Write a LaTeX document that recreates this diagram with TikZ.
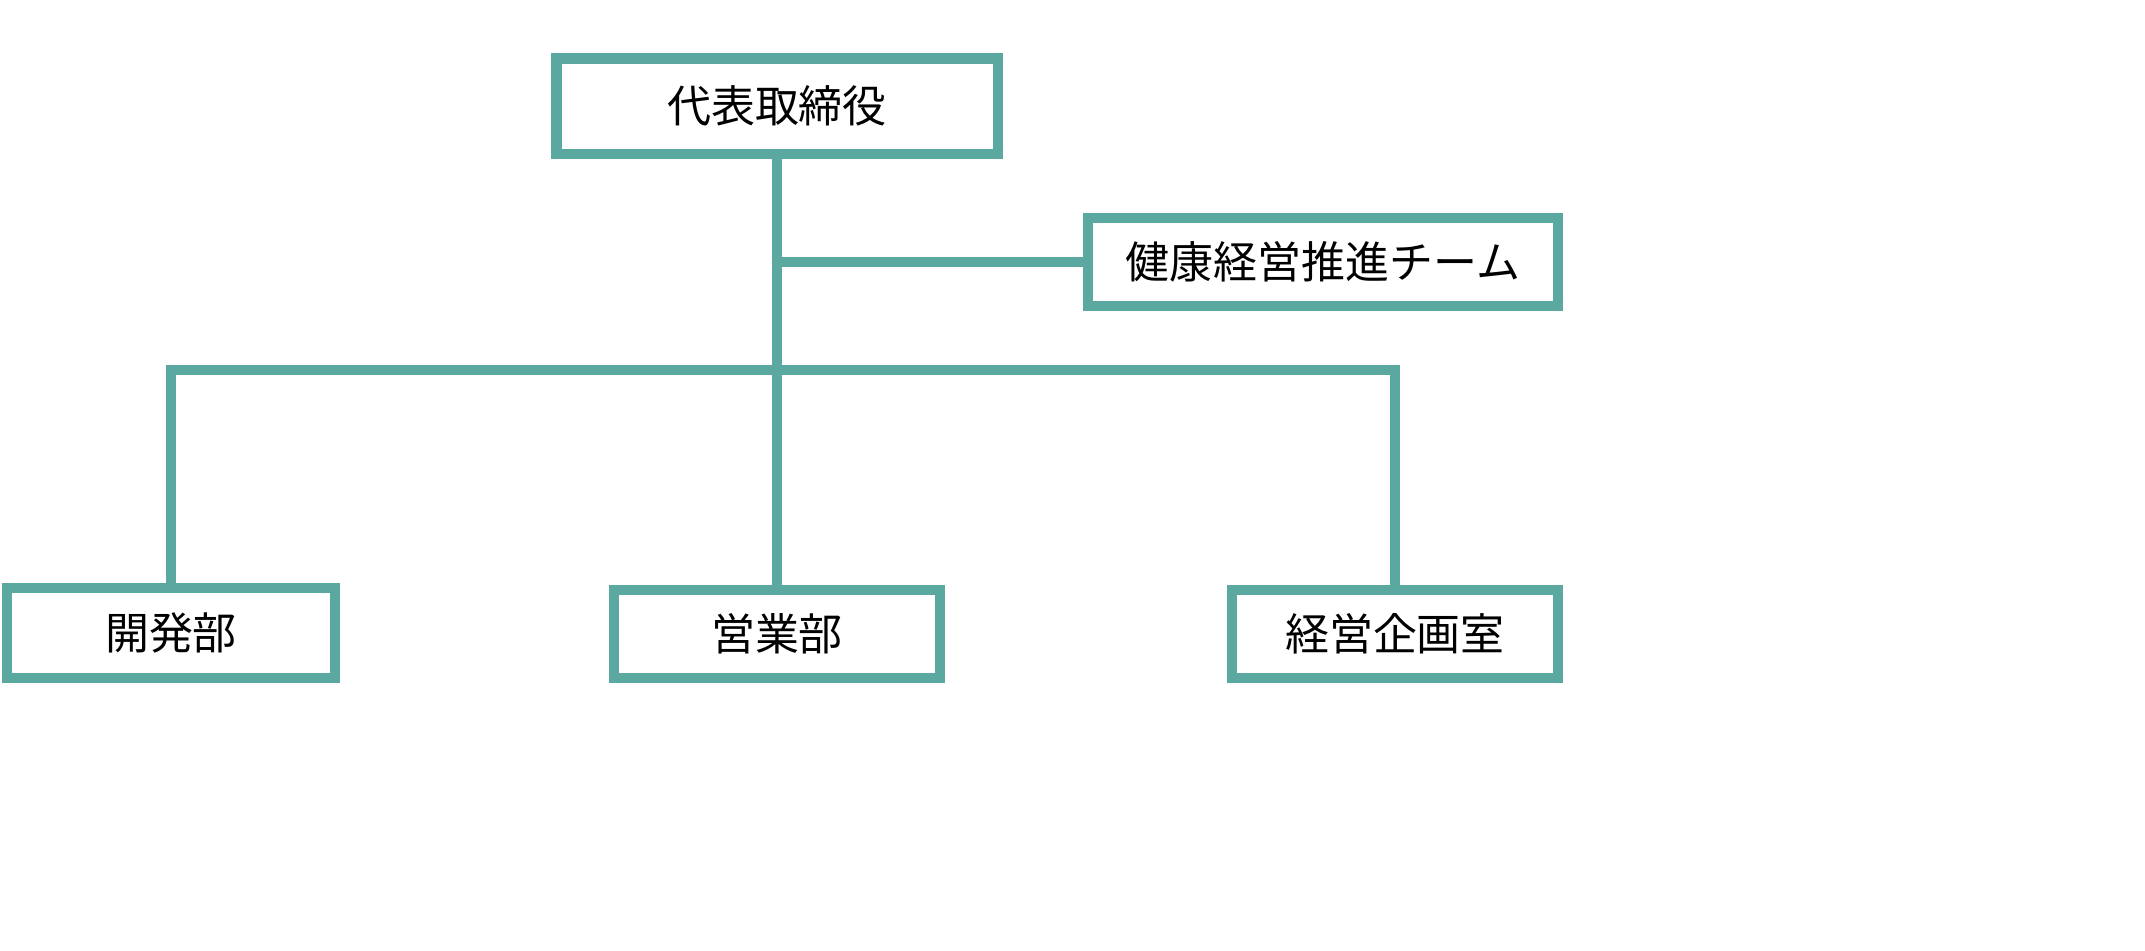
\documentclass[tikz,border=0pt]{standalone}
\usepackage{fontspec}
\setmainfont{Noto Sans CJK JP}
\tikzset{
  unit/.style={draw=teal!60!white!80!black, line width=2.85pt, fill=white, inner sep=0pt, outer sep=0pt, font=\fontsize{12.5}{14}\selectfont},
  link/.style={draw=teal!60!white!80!black, line width=2.85pt}
}
\definecolor{orgline}{RGB}{91,168,160}
\begin{document}
\begin{tikzpicture}[x=0.01cm,y=-0.01cm]
\useasboundingbox (0,0) rectangle (2145,950);
\tikzset{unit/.append style={draw=orgline}, link/.append style={draw=orgline}}
\node[unit, minimum width=441*0.01cm, minimum height=0.95cm] (ceo) at (777,106) {代表取締役};
\node[unit, minimum width=4.69cm, minimum height=0.88cm] (health) at (1323,262) {健康経営推進チーム};
\node[unit, minimum width=3.27cm, minimum height=0.90cm] (dev) at (171,633) {開発部};
\node[unit, minimum width=3.25cm, minimum height=0.88cm] (sales) at (777,634) {営業部};
\node[unit, minimum width=3.25cm, minimum height=0.88cm] (plan) at (1395,634) {経営企画室};
\coordinate (j) at (777,370);

\path[link] (ceo) -- (sales);
\path[link] (health.west) -- (health.west -| ceo.south);
\path[link] (dev.north) |- (j) -| (plan.north);
\end{tikzpicture}
\end{document}
